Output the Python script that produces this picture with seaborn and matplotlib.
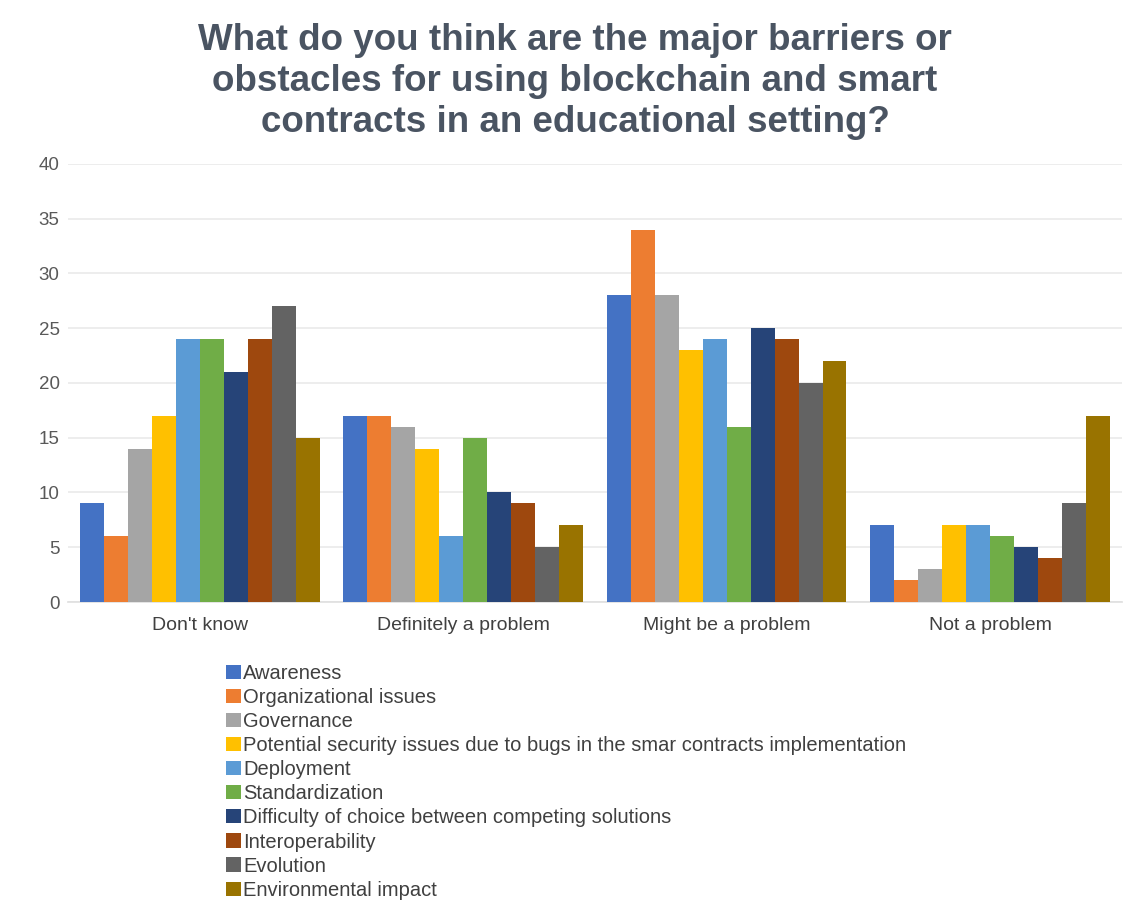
import matplotlib
matplotlib.use("Agg")
import matplotlib.pyplot as plt
import seaborn as sns
import pandas as pd
from matplotlib.patches import Patch

categories = ["Don't know", "Definitely a problem", "Might be a problem", "Not a problem"]
series = ["Awareness", "Organizational issues", "Governance",
          "Potential security issues due to bugs in the smar contracts implementation",
          "Deployment", "Standardization", "Difficulty of choice between competing solutions",
          "Interoperability", "Evolution", "Environmental impact"]
awareness = [9, 17, 28, 7]
organizational = [6, 17, 34, 2]
governance = [14, 16, 28, 3]
security = [17, 14, 23, 7]
deployment = [24, 6, 24, 7]
standardization = [24, 15, 16, 6]
difficulty = [21, 10, 25, 5]
interoperability = [24, 9, 24, 4]
evolution = [27, 5, 20, 9]
environmental = [15, 7, 22, 17]
yticks = [0, 5, 10, 15, 20, 25, 30, 35, 40]

colors = ["#4472C4", "#ED7D31", "#A5A5A5", "#FFC000", "#5B9BD5",
          "#70AD47", "#264478", "#9E480E", "#636363", "#997300"]

values = [awareness, organizational, governance, security, deployment,
          standardization, difficulty, interoperability, evolution, environmental]
rows = []
for s, vals in zip(series, values):
    for c, v in zip(categories, vals):
        rows.append({"Category": c, "Series": s, "Value": v})
df = pd.DataFrame(rows)

sns.set_theme(style="white")
plt.rcParams["font.family"] = ["Liberation Sans", "DejaVu Sans"]

fig = plt.figure(figsize=(11.32, 9.15), dpi=100)
ax = fig.add_axes([0.060, 0.342, 0.931, 0.479])

sns.barplot(data=df, x="Category", y="Value", hue="Series", order=categories,
            hue_order=series, palette=colors, width=0.91, saturation=1,
            edgecolor="none", linewidth=0, ax=ax, legend=False, zorder=3)

ax.set_ylim(0, 40)
ax.set_yticks(yticks)
ax.set_xlim(-0.5, 3.5)
ax.yaxis.grid(True, color="#EAEAEA", linewidth=1.2, zorder=0)
ax.set_axisbelow(True)
for sp in ax.spines.values():
    sp.set_visible(False)
ax.spines["bottom"].set_visible(True)
ax.spines["bottom"].set_color("#E0E0E0")
ax.set_xlabel("")
ax.set_ylabel("")
ax.tick_params(axis="y", labelsize=13.5, labelcolor="#595959", length=0, pad=6)
ax.tick_params(axis="x", labelsize=14, labelcolor="#404040", length=0, pad=11)

fig.text(0.508, 0.975, "What do you think are the major barriers or\nobstacles for using blockchain and smart\ncontracts in an educational setting?",
         ha="center", va="top", fontsize=26.5, fontweight="bold", color="#4A5462",
         linespacing=1.22)

handles = [Patch(facecolor=c, edgecolor="none") for c in colors]
fig.legend(handles, series, loc="upper left", bbox_to_anchor=(0.1996, 0.274),
           frameon=False, fontsize=14.5, handlelength=0.75, handleheight=0.7,
           handletextpad=0.1, labelspacing=0.25, borderaxespad=0, borderpad=0,
           labelcolor="#404040")

fig.savefig("out.png", dpi=100)
